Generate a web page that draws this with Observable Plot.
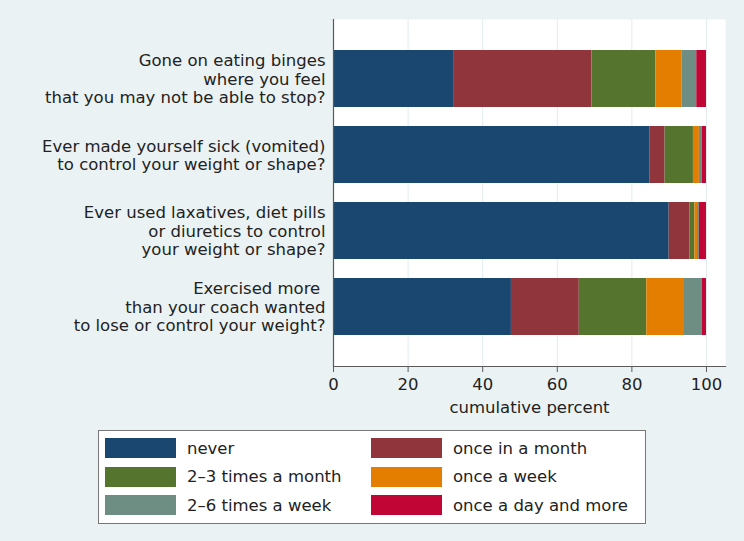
<!DOCTYPE html>
<html><head><meta charset="utf-8">
<script src="https://cdn.jsdelivr.net/npm/d3@7"></script>
<script src="https://cdn.jsdelivr.net/npm/@observablehq/plot@0.6"></script>
<style>
body{margin:0;background:#eaf2f3;font-family:"DejaVu Sans",sans-serif;}
#chart{width:744px;height:541px;background:#eaf2f3;overflow:hidden;}
#chart svg{display:block;}
.legend{box-sizing:border-box;margin:10px 0 0 98px;width:548px;height:94px;background:#fff;border:1px solid #777;
  padding:7px 0 0 6px;display:grid;grid-template-columns:266px 270px;grid-auto-rows:20px;row-gap:8.5px;align-content:start;}
.item{display:flex;align-items:center;height:20px;font-size:16.5px;color:#222;white-space:nowrap;}
.sw{width:71px;height:20px;margin-right:11px;flex:none;}
</style></head><body><div id="chart"></div>
<script>
const questions = [
  "Gone on eating binges\nwhere you feel\nthat you may not be able to stop?",
  "Ever made yourself sick (vomited)\nto control your weight or shape?",
  "Ever used laxatives, diet pills\nor diuretics to control\nyour weight or shape?",
  "Exercised more\u00a0\nthan your coach wanted\nto lose or control your weight?"
];
const frequencies = ["never", "once in a month", "2–3 times a month", "once a week", "2–6 times a week", "once a day and more"];
const colors = ["#1a476f", "#90353b", "#55752f", "#e37e00", "#6e8e84", "#c10534"];
const bingesValues    = [32.2, 37.1, 17.1, 7.0, 4.0, 2.6];
const vomitedValues   = [84.9, 4.0, 7.6, 1.6, 0.8, 1.1];
const laxativesValues = [90.0, 5.6, 1.3, 0.7, 0.5, 1.9];
const exercisedValues = [47.7, 18.2, 18.1, 10.1, 4.8, 1.1];
const xTicks = [0, 20, 40, 60, 80, 100];
const xLabel = "cumulative percent";

const seriesValues = [bingesValues, vomitedValues, laxativesValues, exercisedValues];
const rows = questions.flatMap((q, i) => frequencies.map((f, j) => ({question: q, frequency: f, value: seriesValues[i][j]})));

const plot = Plot.plot({
  width: 744, height: 420,
  marginLeft: 333, marginRight: 19, marginTop: 19, marginBottom: 54,
  style: {background: "transparent", fontFamily: "DejaVu Sans", fontSize: "16.5px", color: "#222", overflow: "visible"},
  x: {domain: [0, 105.1]},
  y: {domain: questions, paddingInner: 0.247, paddingOuter: 0.39},
  color: {domain: frequencies, range: colors},
  marks: [
    Plot.frame({fill: "white", stroke: null}),
    Plot.gridX(xTicks.slice(1), {stroke: "#e3ecef", strokeOpacity: 1}),
    Plot.barX(rows, Plot.stackX({x: "value", y: "question", fill: "frequency", order: frequencies})),
    Plot.ruleX([0], {stroke: "#5a5a5a", strokeWidth: 1.2}),
    Plot.frame({anchor: "bottom", stroke: "#5a5a5a", strokeWidth: 1.2}),
    Plot.axisX(xTicks, {tickSize: 6, tickPadding: 6, stroke: "#5a5a5a", fill: "#222", label: null}),
    Plot.text([xLabel], {frameAnchor: "bottom", dy: 41, fill: "#222", lineAnchor: "middle"}),
    Plot.axisY({tickSize: 0, tickPadding: 8, lineHeight: 1.12, fill: "#222", label: null})
  ]
});
const chart = document.getElementById("chart");
chart.appendChild(plot);

const legend = document.createElement("div");
legend.className = "legend";
frequencies.forEach((f, i) => {
  const item = document.createElement("div");
  item.className = "item";
  const sw = document.createElement("span");
  sw.className = "sw";
  sw.style.background = colors[i];
  item.appendChild(sw);
  item.appendChild(document.createTextNode(f));
  legend.appendChild(item);
});
chart.appendChild(legend);
</script></body></html>
